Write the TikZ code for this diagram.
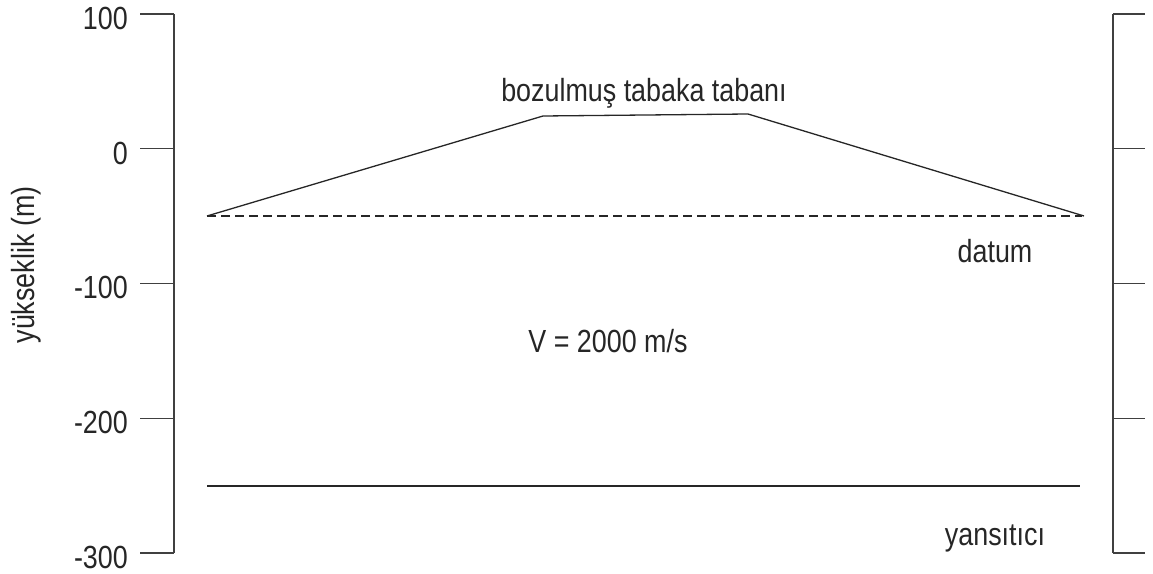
\documentclass[tikz,border=0pt]{standalone}
\usepackage{fontspec}
\setmainfont[FakeStretch=0.84]{Liberation Sans}
\begin{document}
\begin{tikzpicture}[x=1bp,y=-1bp,
  lbl/.style={inner sep=0pt,font=\fontsize{32bp}{38bp}\selectfont,text=black!85},
  axisline/.style={line width=1.2bp,draw=black!75},
  profline/.style={line width=1.3bp,draw=black!85},
  datumline/.style={line width=1.3bp,draw=black!85,dash pattern=on 9bp off 5bp}]
\useasboundingbox (0,0) rectangle (1153,574);
% left axis
\coordinate (la1) at (174,14);
\coordinate (la2) at (174,553);
\draw[axisline] (la1) -- (la2);
\foreach \v/\yy in {100/14,0/148.75,-100/283.5,-200/418.25,-300/553}{
  \coordinate (lt\v) at (140,\yy);
  \coordinate (ltb\v) at (174,\yy);
  \draw[axisline] (lt\v) -- (ltb\v);
  \node[lbl,anchor=base east] (lab\v) at (128,\yy+15.5) {\v};
}
% right axis
\coordinate (ra1) at (1113,14);
\coordinate (ra2) at (1113,553);
\draw[axisline] (ra1) -- (ra2);
\foreach \i/\yy in {1/14,2/148.75,3/283.5,4/418.25,5/553}{
  \coordinate (rt\i) at (1113,\yy);
  \coordinate (rte\i) at (1145,\yy);
  \draw[axisline] (rt\i) -- (rte\i);
}
% y label
\node[lbl,rotate=90] (ylab) at (26,265) {yükseklik (m)};
% profile
\coordinate (p1) at (207,216);
\coordinate (p2) at (543,116);
\coordinate (p3) at (748,114);
\coordinate (p4) at (1084,216);
\draw[profline] (p1) -- (p2) -- (p3) -- (p4);
% datum
\coordinate (d1) at (207,216);
\coordinate (d2) at (1082,216);
\draw[datumline] (d1) -- (d2);
% reflector
\coordinate (r1) at (207,486);
\coordinate (r2) at (1080,486);
\draw[profline] (r1) -- (r2);
% labels
\node[lbl,anchor=base] (tabaka) at (644,102) {bozulmuş tabaka tabanı};
\node[lbl,anchor=base] (datum) at (995,263) {datum};
\node[lbl,anchor=base] (vel) at (608,352) {V = 2000 m/s};
\node[lbl,anchor=base] (refl) at (995,545) {yansıtıcı};
\end{tikzpicture}
\end{document}
